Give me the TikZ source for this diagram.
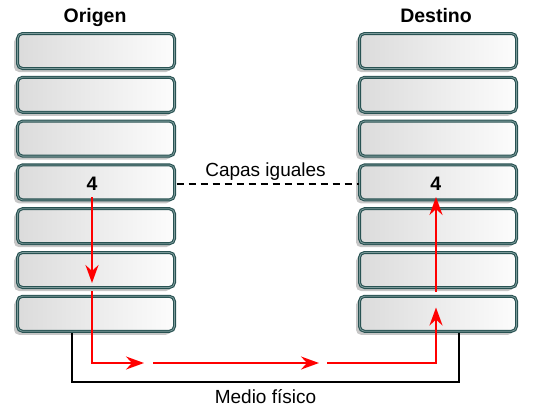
\documentclass[tikz,border=0pt]{standalone}
\usepackage{fontspec}
\setmainfont{Liberation Sans}
\usetikzlibrary{arrows.meta,shadows}
\definecolor{boxedge}{RGB}{40,82,82}
\definecolor{boxmid}{RGB}{125,155,155}
\definecolor{arrred}{RGB}{255,0,0}
\tikzset{
  layerbox/.style={rounded corners=5pt, draw=boxedge, line width=1.1pt,
    double=boxmid, double distance=0.8pt,
    left color=black!14, right color=black!1,
    minimum width=157pt, minimum height=35pt, inner sep=0pt,
    drop shadow={shadow xshift=-3.5pt, shadow yshift=-3.5pt, fill=black!22, opacity=1}},
  headlbl/.style={font=\fontsize{19.5}{22}\selectfont\bfseries, anchor=base, inner sep=0pt},
  numlbl/.style={font=\fontsize{19.5}{22}\selectfont\bfseries, anchor=base, inner sep=0pt},
  plainlbl/.style={font=\fontsize{19}{22}\selectfont, anchor=base, inner sep=0pt},
  flow/.style={draw=arrred, line width=2.4pt,
    -{Stealth[length=18pt, width=13pt, inset=6pt]}},
  medium/.style={draw=black, line width=2pt},
  peer/.style={draw=black, line width=2pt, dash pattern=on 7pt off 5pt}
}
\begin{document}
\begin{tikzpicture}[x=1pt,y=-1pt]
\useasboundingbox (0,0) rectangle (540,410);
\foreach \k in {1,...,7}{
  \node[layerbox] (l\k) at (96,{51+43.8*(\k-1)}) {};
  \node[layerbox] (r\k) at (438,{51+43.8*(\k-1)}) {};
}
\node[headlbl] (origen) at (95,22.5) {Origen};
\node[headlbl] (destino) at (436,22.5) {Destino};
\node[numlbl] (n4l) at (92,190) {4};
\node[numlbl] (n4r) at (435.7,190) {4};
\node[plainlbl] (capas) at (265.5,176) {Capas iguales};
\node[plainlbl] (medio) at (265.5,403.3) {Medio físico};
% peer dashed line
\draw[peer] (l4.east) ++(1.5,1.5) coordinate (d1) -- (d1 -| r4.west);
% physical medium
\coordinate (m1) at (72,333);
\coordinate (m2) at (459,333);
\draw[medium] (m1) -- (72,381.5) -- (459,381.5) -- (m2);
% red flow
\coordinate (a1) at (92,197);
\coordinate (a2) at (92,283);
\coordinate (b1) at (92,291);
\coordinate (b2) at (144,363);
\coordinate (c1) at (153,363);
\coordinate (c2) at (319,363);
\coordinate (e1) at (327,363);
\coordinate (e2) at (436,307.5);
\coordinate (f1) at (436,292);
\coordinate (f2) at (436,197);
\draw[flow] (a1) -- (a2);
\draw[flow] (b1) |- (b2);
\draw[flow] (c1) -- (c2);
\draw[flow] (e1) -| (e2);
\draw[flow] (f1) -- (f2);
\end{tikzpicture}
\end{document}
